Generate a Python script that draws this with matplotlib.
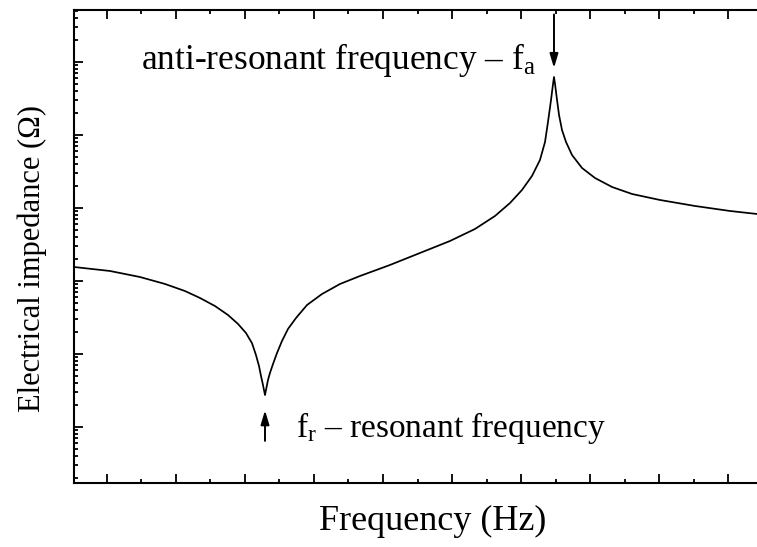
import numpy as np
import matplotlib
matplotlib.use("Agg")
import matplotlib.pyplot as plt
from matplotlib.ticker import MultipleLocator, LogLocator, NullFormatter

plt.rcParams['font.family'] = ['Liberation Serif', 'DejaVu Serif']
plt.rcParams['mathtext.fontset'] = 'custom'
plt.rcParams['mathtext.rm'] = 'Liberation Serif'
plt.rcParams['mathtext.it'] = 'Liberation Serif:italic'

# impedance sweep of the transducer (kHz, ohm)
freq = [5.22, 10.43, 14.78, 18.41, 21.30, 23.48, 25.65, 27.54, 28.99, 30.14,
        31.01, 31.59, 32.03, 32.32, 32.61, 32.75, 32.90, 33.04, 33.19, 33.33,
        33.62, 34.06, 34.64, 35.36, 36.23, 37.39, 38.99, 41.16, 43.77, 46.67,
        51.01, 55.36, 59.71, 63.33, 66.23, 68.41, 70.14, 71.59, 72.75, 73.48,
        73.91, 74.35, 74.64, 74.78, 74.93, 75.22, 75.51, 75.94, 76.52, 77.39,
        78.84, 80.72, 83.19, 86.09, 90.14, 95.22, 100.29, 104.20]
impedance = [1555, 1371, 1134, 910, 729, 585, 454, 342, 258, 194,
             141, 96.9, 68.5, 49.9, 37.6, 32.1, 27.4, 32.1, 37.6, 44.0,
             54.9, 72.9, 103.2, 150.7, 220, 311, 469, 663, 910, 1171,
             1657, 2419, 3531, 5157, 7770, 11710, 17640, 27440, 45450, 80210,
             150700, 301600, 499400, 623000, 499400, 301600, 187900, 117100, 80210, 53210,
             35310, 25760, 19400, 15550, 12870, 10650, 9097, 8276]

f_r = 32.90   # resonant frequency
f_a = 74.78   # anti-resonant frequency

fig = plt.figure(figsize=(7.57, 5.47), dpi=100)
ax = fig.add_axes([74 / 757, 64 / 547, 1 - 74 / 757, 473 / 547])

ax.plot(freq, impedance, color='black', lw=1.25)
ax.set_yscale('log')
ax.set_xlim(5.22, 104.2)
ax.set_ylim(1.71, 5.15e6)

ax.xaxis.set_major_locator(MultipleLocator(10))
ax.xaxis.set_minor_locator(MultipleLocator(5))
ax.yaxis.set_major_locator(LogLocator(base=10))
ax.yaxis.set_minor_locator(LogLocator(base=10, subs=np.arange(2, 10)))
ax.xaxis.set_major_formatter(NullFormatter())
ax.xaxis.set_minor_formatter(NullFormatter())
ax.yaxis.set_major_formatter(NullFormatter())
ax.yaxis.set_minor_formatter(NullFormatter())
ax.tick_params(which='both', direction='in', top=True, right=False, width=1.3)
ax.tick_params(which='major', length=6.5)
ax.tick_params(which='minor', length=3)
for s in ['left', 'bottom', 'top']:
    ax.spines[s].set_linewidth(1.5)
ax.spines['right'].set_visible(False)

z_r = impedance[freq.index(f_r)]
z_a = impedance[freq.index(f_a)]
arrow = dict(arrowstyle='-|>,head_length=0.6,head_width=0.18', color='black',
             lw=1.4, shrinkA=0, mutation_scale=14)

ax.annotate('', xy=(f_a, z_a), xytext=(0, 45), textcoords='offset points',
            arrowprops=dict(arrow, shrinkB=6.5))
ax.annotate('', xy=(f_r, z_r), xytext=(0, -33), textcoords='offset points',
            arrowprops=dict(arrow, shrinkB=11))

ax.annotate('anti-resonant frequency \u2013 f$_\\mathrm{a}$', xy=(f_a, z_a),
            xytext=(-13, 6), textcoords='offset points',
            ha='right', va='baseline', fontsize=25.5)
ax.annotate('f$_\\mathrm{r}$ \u2013 resonant frequency', xy=(f_r, z_r),
            xytext=(22, -30), textcoords='offset points',
            ha='left', va='baseline', fontsize=24)

fig.text(433 / 757, 1 - 521 / 547, 'Frequency (Hz)', ha='center', va='center',
         fontsize=26)
fig.text(32 / 757, 1 - 259 / 547, 'Electrical impedance (\u03a9)', ha='center',
         va='center', rotation=90, fontsize=22)

fig.savefig('out.png', dpi=100)
